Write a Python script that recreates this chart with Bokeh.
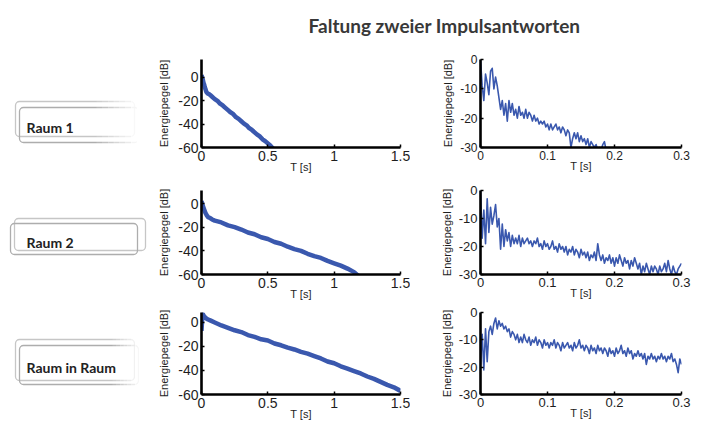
from bokeh.plotting import figure
from bokeh.layouts import column, row
from bokeh.models import Range1d, FixedTicker, CustomJSTickFormatter
from bokeh.core.properties import value
from bokeh.embed import file_html
from bokeh.resources import INLINE

# ---------------- data ----------------
TITLE = "Faltung zweier Impulsantworten"
ROOM_LABELS = ["Raum 1", "Raum 2", "Raum in Raum"]
X_LABEL = "T [s]"
Y_LABEL = "Energiepegel [dB]"

LONG_X_TICKS = [0, 0.5, 1, 1.5]
LONG_Y_TICKS = [-60, -40, -20, 0]
SHORT_X_TICKS = [0, 0.1, 0.2, 0.3]
SHORT_Y_TICKS = [-30, -20, -10, 0]

# left column: energy decay over 1.5 s
raum1_long_t = [0, 0.005, 0.01, 0.015, 0.02, 0.025, 0.03, 0.035, 0.04, 0.05, 0.06, 0.07,
                0.08, 0.1, 0.12, 0.14, 0.16, 0.18, 0.2, 0.22, 0.24, 0.26, 0.28, 0.3,
                0.32, 0.34, 0.36, 0.38, 0.4, 0.42, 0.44, 0.46, 0.48, 0.5, 0.52, 0.54]
raum1_long_db = [2, 0, -2, -4.5, -6, -8.5, -10, -12, -13, -14, -14.5, -15.5,
                 -16.5, -18.5, -20, -22.5, -24, -26, -28, -30, -31.5, -34, -35.5, -37.5,
                 -39.5, -41, -43.5, -45, -47, -49, -50.5, -53, -54.5, -56.5, -58.5, -61]

raum2_long_t = [0, 0.01, 0.02, 0.03, 0.04, 0.05, 0.06, 0.08, 0.1, 0.15, 0.2, 0.25, 0.3,
                0.35, 0.4, 0.45, 0.5, 0.55, 0.6, 0.65, 0.7, 0.75, 0.8, 0.85, 0.9, 0.95,
                1.0, 1.05, 1.1, 1.15, 1.18]
raum2_long_db = [2, -2, -5, -8, -10, -11.5, -12, -13.5, -14.5, -16, -18.5, -20, -22,
                 -24.5, -26, -28.5, -30, -32.5, -34, -36.5, -38.5, -40, -42.5, -44.5, -46, -48.5,
                 -50.5, -52.5, -55, -58, -61]

raumraum_long_t = [0, 0.005, 0.01, 0.015, 0.02, 0.03, 0.04, 0.05, 0.07, 0.1, 0.15, 0.2,
                   0.25, 0.3, 0.35, 0.4, 0.45, 0.5, 0.55, 0.6, 0.65, 0.7, 0.75, 0.8, 0.85,
                   0.9, 0.95, 1.0, 1.05, 1.1, 1.15, 1.2, 1.25, 1.3, 1.35, 1.4, 1.45, 1.5]
raumraum_long_db = [-7, 3, 7, 6, 5, 4, 3, 2.5, 1.5, 0, -2.5, -4.5,
                    -6.5, -8, -10.5, -12, -14, -15, -17.5, -19, -21, -22.5, -24.5, -26, -28,
                    -30, -32.5, -34, -36.5, -38.5, -40.5, -42.5, -45, -47, -49.5, -52, -54, -57]

# right column: first 0.3 s, one value every 2.5 ms
SAMPLE_STEP = 0.0025
raum1_short_db = [0, -9, -14, -5, -8, -12, -4, -3, -10, -6, -9, -13, -17, -14, -19, -15,
                  -21, -14, -18, -15, -19, -17, -20, -16, -19, -18, -20, -17, -20, -18, -19, -21,
                  -19, -21, -20, -22, -21, -22, -21, -23, -22, -24, -22, -24, -23, -22, -24, -23,
                  -25, -23, -24, -26, -24, -25, -30, -27, -25, -27, -25, -28, -26, -28, -27, -29,
                  -27, -30, -28, -29, -30, -29, -31, -30, -31, -29, -28, -31, -32]
raum2_short_db = [0, -17, -7, -19, -3, -15, -6, -12, -9, -5, -13, -10, -21, -12, -20, -14,
                  -18, -15, -20, -16, -19, -17, -19, -16, -20, -17, -19, -18, -17, -19, -18, -20,
                  -18, -19, -17, -20, -19, -21, -18, -20, -19, -21, -20, -18, -21, -20, -22, -19,
                  -21, -20, -22, -20, -23, -21, -22, -20, -23, -21, -22, -24, -21, -23, -22, -24,
                  -22, -25, -23, -24, -22, -25, -19, -23, -25, -23, -26, -24, -25, -23, -26, -24,
                  -27, -24, -26, -23, -25, -27, -24, -26, -25, -28, -25, -27, -24, -26, -28, -26,
                  -30, -27, -29, -26, -28, -30, -27, -29, -27, -28, -30, -27, -29, -28, -26, -29,
                  -25, -28, -30, -27, -29, -30, -28, -27, -26]
raumraum_short_db = [-19, -8, -21, -6, -18, -7, -5, -8, -4, -2, -6, -3, -5, -4, -6, -5,
                     -7, -6, -9, -7, -8, -10, -8, -11, -9, -11, -8, -10, -11, -9, -12, -10,
                     -11, -9, -12, -10, -11, -13, -10, -12, -11, -13, -11, -12, -10, -13, -11, -12,
                     -14, -11, -13, -12, -11, -13, -12, -14, -11, -13, -12, -10, -13, -12, -14, -12,
                     -13, -15, -12, -14, -13, -15, -12, -14, -13, -15, -13, -14, -16, -13, -15, -14,
                     -16, -13, -15, -14, -12, -15, -14, -16, -13, -15, -14, -17, -15, -16, -14, -16,
                     -15, -17, -15, -19, -16, -17, -15, -17, -16, -18, -16, -17, -15, -17, -16, -18,
                     -16, -17, -15, -18, -17, -19, -22, -17, -19]

BLUE = "#3a58ae"
TEXT = "#1e1e1e"
FONT = "Liberation Sans"


def sample_times(vals):
    return [i * SAMPLE_STEP for i in range(len(vals))]


def style_plot(p, fs_tick, label_standoff_y):
    p.outline_line_color = None
    p.grid.visible = False
    p.background_fill_color = "white"
    p.border_fill_color = "white"
    for ax in (p.xaxis[0], p.yaxis[0]):
        ax.axis_line_width = 2.6
        ax.axis_line_color = "black"
        ax.major_tick_in = 3
        ax.major_tick_out = 0
        ax.major_tick_line_width = 1.5
        ax.minor_tick_line_color = None
        ax.major_label_text_font = FONT
        ax.major_label_text_font_size = f"{fs_tick}px"
        ax.major_label_text_color = TEXT
        ax.axis_label_text_font = FONT
        ax.axis_label_text_font_size = "11px"
        ax.axis_label_text_font_style = "normal"
        ax.axis_label_text_color = TEXT
        ax.major_label_standoff = 3
        ax.formatter = CustomJSTickFormatter(code="return (Math.round(tick*10)/10).toString();")
    p.xaxis[0].axis_label_standoff = -3
    p.yaxis[0].axis_label_standoff = label_standoff_y


def make_plot(t, db, xr, yr, xticks, yticks, width, height, borders, lw, fs_tick, sy):
    l, r, tp, b = borders
    p = figure(width=width, height=height, output_backend="svg", toolbar_location=None,
               title=None, x_range=Range1d(*xr), y_range=Range1d(*yr),
               min_border_left=l, min_border_right=r, min_border_top=tp, min_border_bottom=b)
    p.line(t, db, line_color=BLUE, line_width=lw, line_join="round")
    p.xaxis.ticker = FixedTicker(ticks=xticks)
    p.yaxis.ticker = FixedTicker(ticks=yticks)
    p.xaxis.axis_label = X_LABEL
    p.yaxis.axis_label = Y_LABEL
    style_plot(p, fs_tick, sy)
    return p


# ---------------- room labels (left strip, page pixel space) ----------------
labels_fig = figure(width=150, height=425, output_backend="svg", toolbar_location=None,
                    title=None, x_range=Range1d(0, 150), y_range=Range1d(425, 0),
                    x_axis_location=None, y_axis_location=None, min_border=0)
labels_fig.outline_line_color = None
labels_fig.grid.visible = False

BOXES = [
    # back box, front box, text position, fade region
    ((15, 101, 134, 136), (19, 107, 138, 142), (26, 127), (96, 142)),
    ((14, 218, 145, 250), (10, 223, 137, 254), (26, 242), None),
    ((15, 339, 134, 380), (19, 345, 138, 384), (26, 367), (112, 142)),
]
for label, (back, front, txy, fade) in zip(ROOM_LABELS, BOXES):
    for (l, t, r, b), col in ((back, "#c6c6c6"), (front, "#adadad")):
        labels_fig.quad(left=l, right=r, top=t, bottom=b, fill_alpha=0.0,
                        line_color=col, line_width=1.3, border_radius=4)
    if fade:
        x0, x1 = fade
        n = 8
        w = (x1 - x0) / n
        for i in range(n):
            labels_fig.quad(left=x0 + i * w, right=x0 + (i + 1) * w + 0.5,
                            top=min(back[1], front[1]) - 3, bottom=max(back[3], front[3]) + 3,
                            fill_color="white", fill_alpha=(i + 1) / n, line_color=None)
    labels_fig.text(x=[txy[0]], y=[txy[1]], text=[label], text_font=value("Lato"),
                    text_font_size="14px", text_font_style="bold", text_color="#222222",
                    text_baseline="alphabetic", text_align="left")

# ---------------- title ----------------
title_fig = figure(width=553, height=50, output_backend="svg", toolbar_location=None,
                   title=None, x_range=Range1d(150, 703), y_range=Range1d(50, 0),
                   x_axis_location=None, y_axis_location=None, min_border=0)
title_fig.outline_line_color = None
title_fig.grid.visible = False
title_fig.text(x=[444], y=[25], text=[TITLE], text_font=value("Lato"), text_font_size="19px",
               text_font_style="bold", text_color="#383838", text_align="center",
               text_baseline="alphabetic")

# ---------------- plots (same top/bottom borders within a row) ----------------
LW, RW = 260, 293
LB = (51, 10)
RB = (70, 22)

l1 = make_plot(raum1_long_t, raum1_long_db, (0, 1.5), (-60, 15.4), LONG_X_TICKS, LONG_Y_TICKS,
               LW, 127, (*LB, 9, 30), 4.5, 14, 5)
r1 = make_plot(sample_times(raum1_short_db), raum1_short_db, (0, 0.3), (-30, 0), SHORT_X_TICKS,
               SHORT_Y_TICKS, RW, 127, (*RB, 9, 30), 1.6, 12, 3)
l2 = make_plot(raum2_long_t, raum2_long_db, (0, 1.5), (-60, 11), LONG_X_TICKS, LONG_Y_TICKS,
               LW, 125, (*LB, 13, 28), 4.5, 14, 5)
r2 = make_plot(sample_times(raum2_short_db), raum2_short_db, (0, 0.3), (-30, 0), SHORT_X_TICKS,
               SHORT_Y_TICKS, RW, 125, (*RB, 13, 28), 1.6, 13, 3)
l3 = make_plot(raumraum_long_t, raumraum_long_db, (0, 1.5), (-60, 8.3), LONG_X_TICKS,
               LONG_Y_TICKS, LW, 123, (*LB, 10, 31), 4.5, 14, 5)
r3 = make_plot(sample_times(raumraum_short_db), raumraum_short_db, (0, 0.3), (-30, 0),
               SHORT_X_TICKS, SHORT_Y_TICKS, RW, 123, (*RB, 10, 31), 1.6, 13, 3)

right_part = column(title_fig, row(l1, r1), row(l2, r2), row(l3, r3))
layout = row(labels_fig, right_part)
open("out.html", "w").write(file_html(layout, INLINE))
